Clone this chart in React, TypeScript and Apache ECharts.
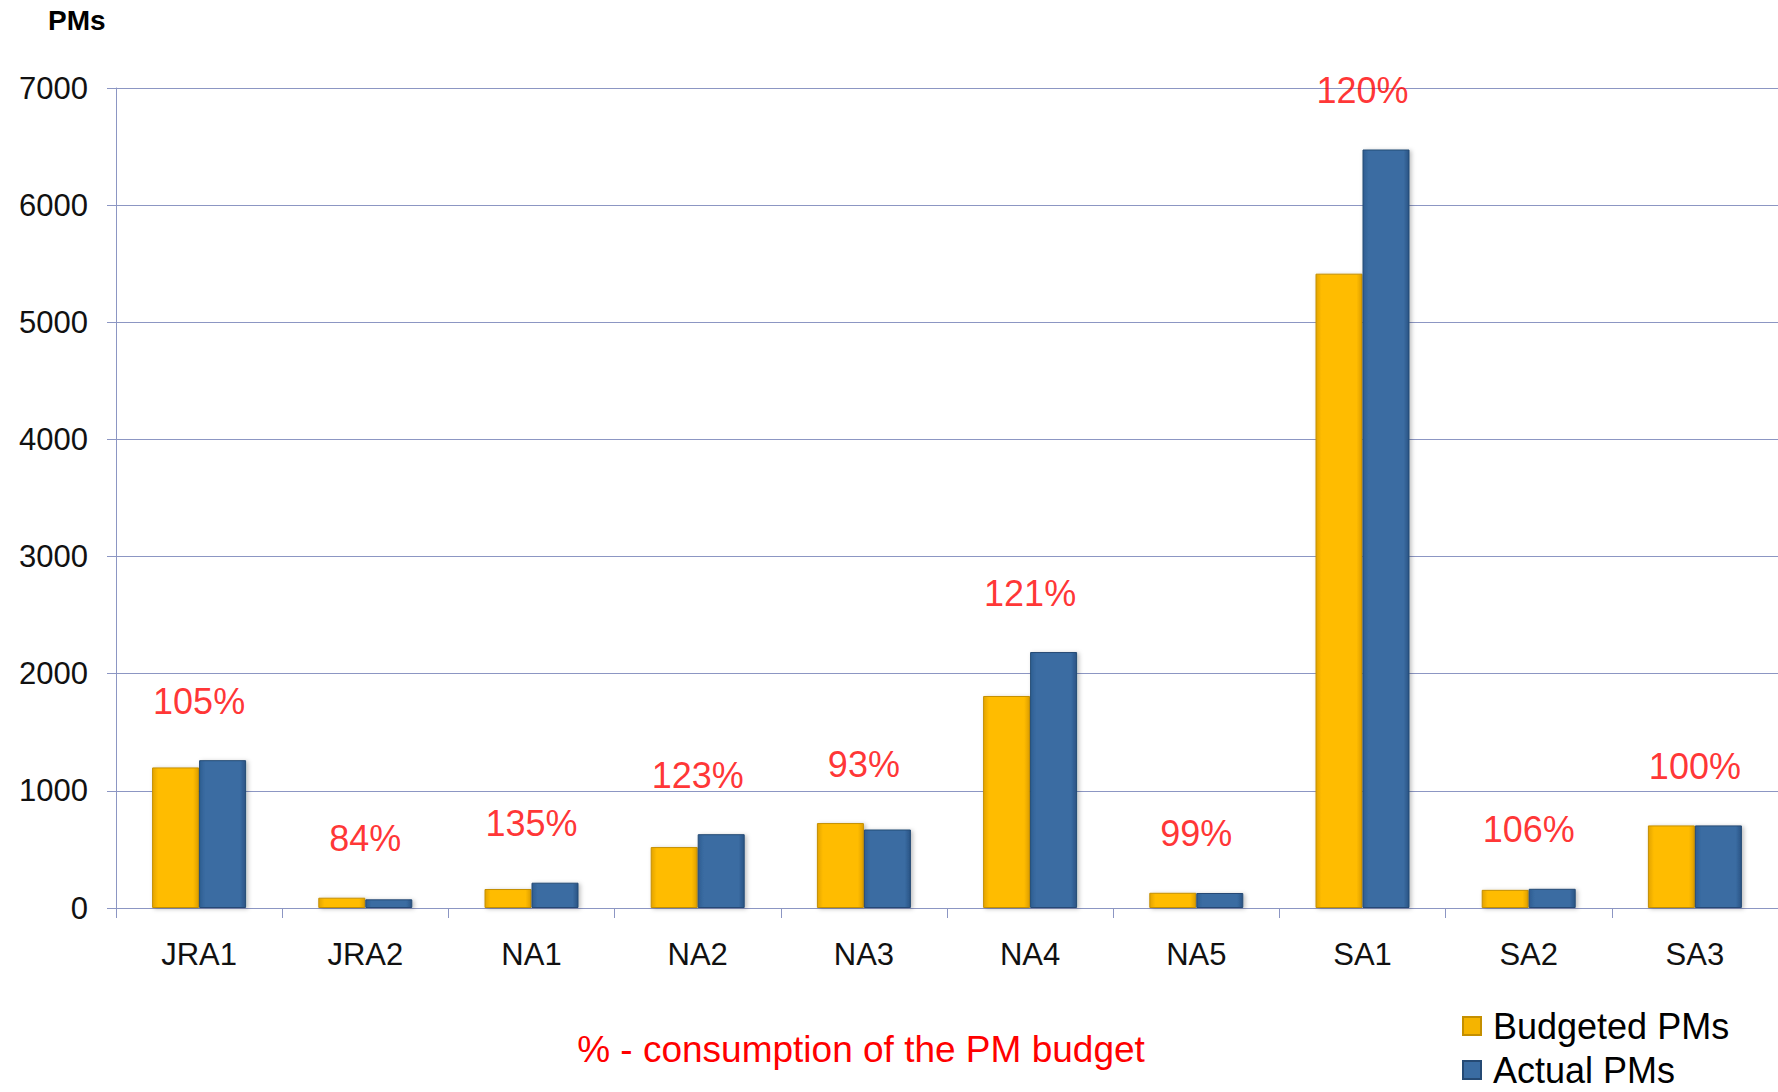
import React, { useEffect, useRef } from "react";
import * as echarts from "echarts";

const categories = ["JRA1", "JRA2", "NA1", "NA2", "NA3", "NA4", "NA5", "SA1", "SA2", "SA3"];
const budgetedPMs = [1200, 88, 162, 520, 725, 1810, 130, 5415, 155, 705];
const actualPMs = [1262, 74, 216, 630, 670, 2185, 128, 6475, 164, 705];
const consumptionPct = [105, 84, 135, 123, 93, 121, 99, 120, 106, 100];
const yTicks = { min: 0, max: 7000, interval: 1000 };

const FONT = "'Liberation Sans', Arial, sans-serif";
const GRID_COLOR = "#8C96C3";

export default function App() {
  const ref = useRef<HTMLDivElement>(null);

  useEffect(() => {
    if (!ref.current) return;
    const chart = echarts.init(ref.current, null, { renderer: "svg" });

    const labelPoints = categories.map((c, i) => ({
      value: [c, Math.max(budgetedPMs[i], actualPMs[i])],
      pct: consumptionPct[i],
    }));

    const yellow = new echarts.graphic.LinearGradient(0, 0, 1, 0, [
      { offset: 0, color: "#E3A400" },
      { offset: 0.12, color: "#FFBC00" },
      { offset: 0.88, color: "#FFBC00" },
      { offset: 1, color: "#DE9F00" },
    ]);
    const blue = new echarts.graphic.LinearGradient(0, 0, 1, 0, [
      { offset: 0, color: "#2F5E92" },
      { offset: 0.12, color: "#3A6CA2" },
      { offset: 0.88, color: "#3A6CA2" },
      { offset: 1, color: "#2A5384" },
    ]);

    chart.setOption({
      animation: false,
      backgroundColor: "#FFFFFF",
      textStyle: { fontFamily: FONT },
      grid: { left: 116, top: 88, width: 1667, height: 820, containLabel: false },
      legend: {
        orient: "vertical",
        left: 1462,
        top: 1006,
        padding: 0,
        itemGap: 4,
        itemWidth: 18,
        itemHeight: 18,
        icon: "rect",
        data: [
          { name: "Budgeted PMs", itemStyle: { color: "#F5B400" } },
          { name: "Actual PMs", itemStyle: { color: "#3A6CA2" } },
        ],
        textStyle: {
          fontFamily: FONT,
          fontSize: 36,
          color: "#000000",
          lineHeight: 40,
          padding: [0, 0, 0, 7],
        },
      },
      graphic: [
        {
          type: "text",
          left: 48,
          top: 6,
          style: {
            text: "PMs",
            font: `bold 28px ${FONT}`,
            fill: "#000000",
          },
        },
        {
          type: "text",
          x: 861,
          y: 1049,
          style: {
            text: "% - consumption of the PM budget",
            font: `37px ${FONT}`,
            fill: "#FF0000",
            textAlign: "center",
            textVerticalAlign: "middle",
          },
        },
      ],
      xAxis: {
        type: "category",
        data: categories,
        boundaryGap: true,
        axisLine: { show: true, lineStyle: { color: GRID_COLOR, width: 1 } },
        axisTick: { show: true, length: 10, lineStyle: { color: GRID_COLOR } },
        axisLabel: { fontSize: 31, color: "#111111", margin: 31, fontFamily: FONT },
        splitLine: { show: false },
      },
      yAxis: {
        type: "value",
        min: yTicks.min,
        max: yTicks.max,
        interval: yTicks.interval,
        axisLine: { show: true, lineStyle: { color: GRID_COLOR, width: 1 } },
        axisTick: { show: true, length: 9, lineStyle: { color: GRID_COLOR } },
        axisLabel: {
          fontSize: 31,
          color: "#111111",
          margin: 28,
          fontFamily: FONT,
          formatter: (v: number) => String(v),
        },
        splitLine: { show: true, lineStyle: { color: GRID_COLOR, width: 1 } },
      },
      series: [
        {
          name: "Budgeted PMs",
          type: "bar",
          data: budgetedPMs,
          barWidth: 47,
          barGap: "0%",
          itemStyle: {
            color: yellow,
            borderColor: "#C48F00",
            borderWidth: 1,
            shadowColor: "rgba(0,0,0,0.25)",
            shadowBlur: 4,
            shadowOffsetX: 2,
            shadowOffsetY: 1,
          },
        },
        {
          name: "Actual PMs",
          type: "bar",
          data: actualPMs,
          barWidth: 47,
          barGap: "0%",
          itemStyle: {
            color: blue,
            borderColor: "#254A74",
            borderWidth: 1,
            shadowColor: "rgba(0,0,0,0.25)",
            shadowBlur: 4,
            shadowOffsetX: 2,
            shadowOffsetY: 1,
          },
        },
        {
          name: "pct",
          type: "scatter",
          data: labelPoints,
          symbolSize: 0,
          silent: true,
          z: 10,
          label: {
            show: true,
            position: "top",
            distance: 41,
            fontSize: 36,
            fontFamily: FONT,
            color: "#FF0000",
            formatter: (p: any) => `${p.data.pct}%`,
          },
        },
      ],
    });

    return () => chart.dispose();
  }, []);

  return (
    <div
      ref={ref}
      style={{ position: "fixed", left: 0, top: 0, width: 1778, height: 1092, background: "#fff" }}
    />
  );
}
